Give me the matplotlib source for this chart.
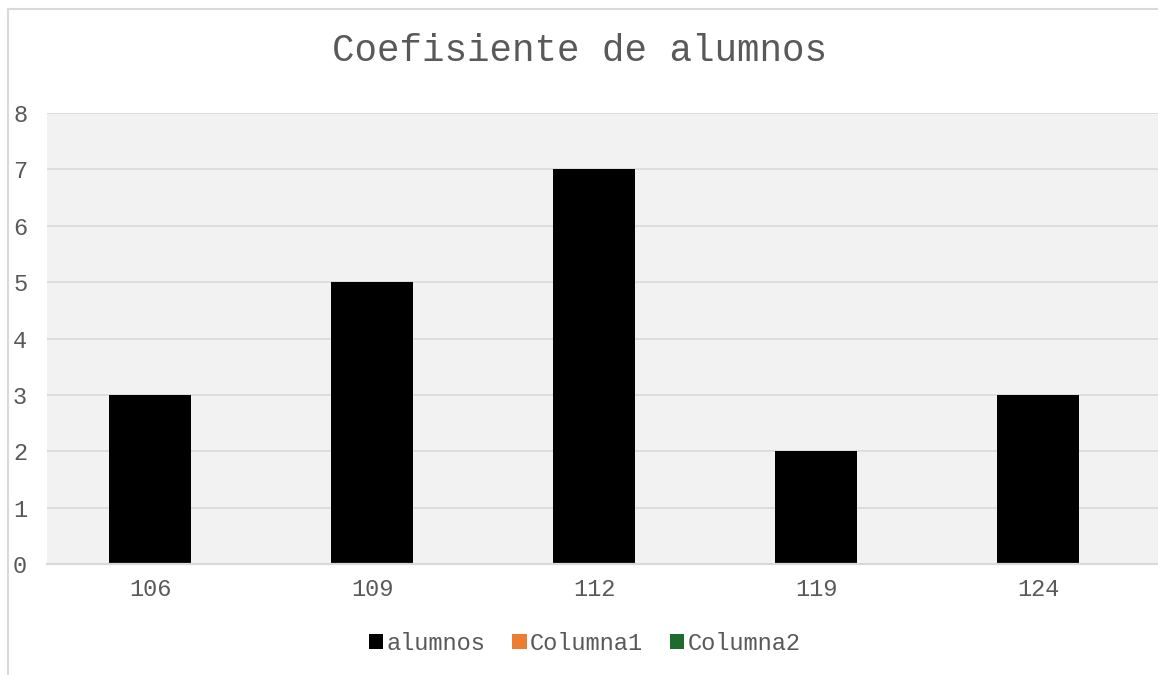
import matplotlib.pyplot as plt
from matplotlib.patches import Patch
from matplotlib.lines import Line2D

categories = ['106', '109', '112', '119', '124']
alumnos = [3, 5, 7, 2, 3]
legend_labels = ['alumnos', 'Columna1', 'Columna2']
legend_colors = ['#000000', '#ED7D31', '#1E6B2B']

plt.rcParams['font.family'] = ['Liberation Mono', 'DejaVu Sans Mono']
text_color = '#595959'
grid_color = '#D9D9D9'

W, H = 1158, 675
fig = plt.figure(figsize=(W / 100, H / 100), dpi=100)
fig.patch.set_facecolor('white')

# plot area in pixel terms
left, right, top, bottom = 47, 1158, 113, 564
ax = fig.add_axes([left / W, 1 - bottom / H, (right - left) / W, (bottom - top) / H])
ax.set_facecolor('#F2F2F2')

x = range(len(categories))
ax.bar(x, alumnos, width=0.37, color=legend_colors[0], zorder=3)

slot = 222.0
ax.set_xlim(-(150 - left) / slot, 4 + (right - 1038) / slot)
ax.set_ylim(0, 8)
ax.set_yticks(range(0, 9))
ax.set_xticks(list(x))
ax.set_xticklabels(categories)

ax.grid(axis='y', color=grid_color, linewidth=1.2, zorder=1)
ax.set_axisbelow(True)
for s in ['top', 'right', 'left']:
    ax.spines[s].set_visible(False)
ax.spines['bottom'].set_color(grid_color)
ax.spines['bottom'].set_linewidth(1.6)
ax.spines['bottom'].set_zorder(4)

ax.tick_params(axis='both', length=0, labelsize=17, labelcolor=text_color)
ax.tick_params(axis='x', pad=10)
for lab in ax.get_yticklabels():
    lab.set_horizontalalignment('left')
ax.tick_params(axis='y', pad=(left - 13) * 0.72)

fig.text(0.5, 1 - 51 / H, 'Coefisiente de alumnos', ha='center', va='center',
         fontsize=27, color=text_color)

handles = [Patch(facecolor=c, edgecolor='none') for c in legend_colors]
leg = fig.legend(handles, legend_labels, loc='center', bbox_to_anchor=(0.505, 1 - 643 / H),
                 ncol=3, frameon=False, fontsize=17, handlelength=0.6, handleheight=0.6,
                 handletextpad=0.15, columnspacing=1.15)
for t in leg.get_texts():
    t.set_color(text_color)

# chart border (left and top edges visible)
fig.add_artist(Line2D([8 / W, 8 / W], [0, 1 - 9 / H], color=grid_color, linewidth=1.5,
                      transform=fig.transFigure))
fig.add_artist(Line2D([8 / W, 1], [1 - 9 / H, 1 - 9 / H], color=grid_color, linewidth=1.5,
                      transform=fig.transFigure))

fig.savefig('out.png', dpi=100)
